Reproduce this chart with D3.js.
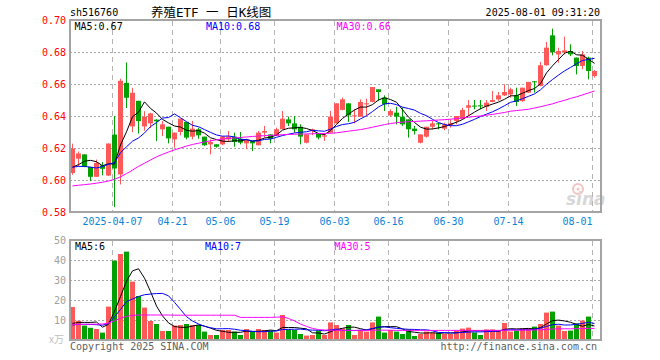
<!DOCTYPE html>
<html><head><meta charset="utf-8">
<script src="https://cdn.jsdelivr.net/npm/d3@7/dist/d3.min.js"></script>
<style>body{margin:0;background:#fff}svg{display:block}</style>
</head><body>
<svg id="chart" width="660" height="360"></svg>
<script>
// ---------- data ----------
const dates = ["2025-03-26","2025-03-27","2025-03-28","2025-03-31","2025-04-01","2025-04-02","2025-04-03","2025-04-07","2025-04-08","2025-04-09",
"2025-04-10","2025-04-11","2025-04-14","2025-04-15","2025-04-16","2025-04-17","2025-04-18","2025-04-21","2025-04-22","2025-04-23",
"2025-04-24","2025-04-25","2025-04-28","2025-04-29","2025-04-30","2025-05-06","2025-05-07","2025-05-08","2025-05-09","2025-05-12",
"2025-05-13","2025-05-14","2025-05-15","2025-05-16","2025-05-19","2025-05-20","2025-05-21","2025-05-22","2025-05-23","2025-05-26",
"2025-05-27","2025-05-28","2025-05-29","2025-05-30","2025-06-03","2025-06-04","2025-06-05","2025-06-06","2025-06-09","2025-06-10",
"2025-06-11","2025-06-12","2025-06-13","2025-06-16","2025-06-17","2025-06-18","2025-06-19","2025-06-20","2025-06-23","2025-06-24",
"2025-06-25","2025-06-26","2025-06-27","2025-06-30","2025-07-01","2025-07-02","2025-07-03","2025-07-04","2025-07-07","2025-07-08",
"2025-07-09","2025-07-10","2025-07-11","2025-07-14","2025-07-15","2025-07-16","2025-07-17","2025-07-18","2025-07-21","2025-07-22",
"2025-07-23","2025-07-24","2025-07-25","2025-07-28","2025-07-29","2025-07-30","2025-07-31","2025-08-01"];

const open  = [.6044,.6133,.6160,.6082,.6020,.6091,.6028,.6284,.6035,.6607,
.6335,.6495,.6335,.6354,.6377,.6317,.6333,.6254,.6300,.6363,
.6271,.6317,.6271,.6223,.6223,.6223,.6254,.6271,.6258,.6229,
.6244,.6217,.6296,.6285,.6275,.6317,.6379,.6354,.6333,.6233,
.6306,.6292,.6271,.6296,.6354,.6438,.6479,.6400,.6396,.6475,
.6488,.6567,.6515,.6404,.6421,.6396,.6379,.6321,.6233,.6271,
.6333,.6354,.6321,.6342,.6369,.6383,.6452,.6465,.6467,.6458,
.6488,.6504,.6529,.6535,.6529,.6494,.6546,.6617,.6588,.6717,
.6904,.6785,.6800,.6806,.6765,.6713,.6765,.6650];
const high  = [.6227,.6178,.6160,.6082,.6128,.6112,.6228,.6400,.6633,.6734,
.6576,.6495,.6430,.6420,.6380,.6369,.6333,.6296,.6383,.6363,
.6369,.6327,.6271,.6254,.6223,.6275,.6306,.6296,.6300,.6258,
.6244,.6306,.6338,.6285,.6327,.6431,.6396,.6400,.6348,.6285,
.6321,.6292,.6292,.6431,.6479,.6515,.6479,.6442,.6504,.6508,
.6581,.6567,.6529,.6442,.6458,.6452,.6379,.6338,.6285,.6333,
.6369,.6358,.6358,.6379,.6400,.6452,.6500,.6500,.6500,.6500,
.6556,.6550,.6598,.6577,.6577,.6577,.6613,.6619,.6738,.6863,
.6946,.6827,.6896,.6848,.6765,.6806,.6771,.6688];
const low   = [.6033,.6085,.6080,.5993,.6020,.6029,.6025,.5831,.5972,.6450,
.6300,.6290,.6308,.6325,.6243,.6275,.6229,.6202,.6279,.6254,
.6254,.6258,.6213,.6160,.6202,.6217,.6238,.6208,.6223,.6192,
.6181,.6217,.6265,.6229,.6275,.6317,.6338,.6296,.6223,.6229,
.6280,.6254,.6244,.6296,.6354,.6435,.6363,.6354,.6396,.6400,
.6485,.6494,.6431,.6396,.6348,.6338,.6265,.6285,.6229,.6265,
.6317,.6317,.6312,.6327,.6348,.6381,.6400,.6442,.6442,.6431,
.6486,.6494,.6525,.6515,.6463,.6488,.6544,.6546,.6586,.6715,
.6779,.6733,.6785,.6775,.6660,.6692,.6629,.6640];
const close = [.6196,.6166,.6082,.6020,.6107,.6070,.6228,.6072,.6620,.6514,
.6545,.6368,.6395,.6416,.6367,.6348,.6260,.6296,.6383,.6265,
.6321,.6279,.6217,.6238,.6208,.6271,.6271,.6238,.6233,.6248,
.6229,.6296,.6306,.6258,.6317,.6383,.6354,.6317,.6271,.6285,
.6317,.6265,.6279,.6396,.6479,.6504,.6404,.6404,.6488,.6479,
.6581,.6550,.6473,.6431,.6396,.6348,.6317,.6306,.6285,.6333,
.6354,.6350,.6348,.6354,.6400,.6438,.6467,.6462,.6460,.6483,
.6500,.6529,.6550,.6567,.6488,.6577,.6613,.6613,.6717,.6827,
.6800,.6806,.6810,.6785,.6713,.6785,.6681,.6681];
// volume in 万
const volume = [16.5,9.6,7.2,6.1,5.5,3.7,16.7,39.7,43.0,44.2,
29.2,22.0,16.2,9.5,8.0,4.5,4.5,7.2,7.5,8.0,
7.5,7.5,4.2,2.5,2.5,5.0,5.0,4.2,2.5,5.5,
4.2,5.5,5.0,4.7,3.7,12.5,5.3,5.0,3.0,2.2,
2.5,4.7,2.5,8.8,7.5,5.8,7.5,2.5,5.0,4.2,
8.8,11.7,3.7,5.0,4.2,3.0,5.3,2.0,3.0,4.2,
3.7,3.7,3.0,3.0,4.7,5.7,6.2,3.8,2.5,5.3,
5.3,5.0,8.5,4.2,4.7,5.8,5.8,6.7,8.0,13.7,
14.2,7.2,4.5,4.7,8.3,9.7,11.7,0.5];
// sessions just before the visible window (implied by the MA lines at the left edge)
const priorCloses  = [.6116,.6082,.6070,.6157,.5975,.6086,.5977,.5990,.6151];
const priorVolumes = [6.5,6.8,6.9,6.6,6.7,7.1,7.2,6.1,4.6];
// 30-day averages
const ma30Price = [.5963,.5967,.5971,.5975,.5980,.5986,.5994,.6004,.6020,.6040,
.6062,.6085,.6105,.6125,.6145,.6160,.6175,.6188,.6200,.6212,
.6222,.6230,.6238,.6245,.6251,.6256,.6260,.6263,.6266,.6269,
.6272,.6275,.6277,.6279,.6281,.6283,.6285,.6286,.6287,.6288,
.6289,.6290,.6291,.6292,.6295,.6300,.6305,.6310,.6315,.6322,
.6330,.6338,.6346,.6353,.6358,.6362,.6364,.6366,.6368,.6370,
.6372,.6375,.6377,.6380,.6384,.6388,.6392,.6397,.6400,.6405,
.6410,.6416,.6422,.6430,.6434,.6438,.6442,.6450,.6458,.6467,
.6476,.6488,.6498,.6510,.6520,.6532,.6544,.6556];
const ma30Vol = [7.8,7.8,7.8,7.9,7.9,8.0,8.4,9.6,10.9,11.8,
12.3,12.5,12.5,12.5,12.5,12.5,12.5,12.4,12.4,12.4,
12.4,12.4,12.4,12.4,12.4,12.4,12.4,12.4,11.3,11.3,
11.3,11.3,11.3,11.3,11.4,11.6,10.8,9.5,8.0,6.8,
5.8,5.2,5.0,4.9,4.9,4.8,4.8,4.8,4.8,4.8,
4.9,4.9,4.9,4.9,4.8,4.8,4.8,4.8,4.8,4.8,
4.8,4.8,4.8,4.8,4.8,4.8,4.8,4.8,4.8,4.8,
4.8,4.8,4.9,4.9,4.9,4.9,5.0,5.0,5.1,5.3,
5.5,5.6,5.6,5.6,5.7,5.7,5.8,5.8];

const priceTicks = [0.58,0.60,0.62,0.64,0.66,0.68,0.70];
const volTicks = [10,20,30,40,50];
const dateTicks = ["2025-04-07","2025-04-21","2025-05-06","2025-05-19","2025-06-03","2025-06-16","2025-06-30","2025-07-14","2025-08-01"];
const dateTickLabels = ["2025-04-07","04-21","05-06","05-19","06-03","06-16","06-30","07-14","08-01"];
const priceLegend = ["MA5:0.67","MA10:0.68","MA30:0.66"];
const volLegend = ["MA5:6","MA10:7","MA30:5"];
const titleCode = "sh516760";
const titleText = "养殖ETF 一 日K线图";
const titleTime = "2025-08-01 09:31:20";

// ---------- setup ----------
const UP = "#ff5858", DOWN = "#00a000";
const MA_COLORS = ["#000000", "#0000ff", "#ff00ff"];
const MONO = "'DejaVu Sans Mono', 'Liberation Mono', monospace";
const svg = d3.select("#chart");

const L = 70, R = 601;
const x = d3.scaleLinear().domain([0, dates.length - 1]).range([72.5, 72.5 + 6 * (dates.length - 1)]);
const y = d3.scaleLinear().domain([0.58, 0.70]).range([212, 20]);
const yv = d3.scaleLinear().domain([0, 50]).range([340, 240]);

function movingAvg(prior, vals, n) {
  const all = prior.concat(vals), off = prior.length;
  return vals.map((_, i) => d3.mean(all.slice(i + off - n + 1, i + off + 1)));
}
const ma5 = movingAvg(priorCloses, close, 5), ma10 = movingAvg(priorCloses, close, 10);
const vma5 = movingAvg(priorVolumes, volume, 5), vma10 = movingAvg(priorVolumes, volume, 10);

const idx = d3.range(dates.length);
const isUp = i => close[i] >= open[i];

// clip paths
const defs = svg.append("defs");
defs.append("clipPath").attr("id", "cp").append("rect").attr("x", L).attr("y", 20).attr("width", R - L).attr("height", 192);
defs.append("clipPath").attr("id", "cv").append("rect").attr("x", L).attr("y", 240).attr("width", R - L).attr("height", 100);

// ---------- titles ----------
svg.append("text").attr("x", 70).attr("y", 16).attr("font-family", MONO).attr("font-size", 10).attr("fill", "#000").text(titleCode);
svg.append("text").attr("x", 151).attr("y", 17).attr("style", "white-space:pre")
  .attr("font-family", "'DejaVu Sans Mono', 'Noto Sans CJK SC', sans-serif").attr("font-size", 12.5).attr("fill", "#000").text(titleText);
svg.append("text").attr("x", 600).attr("y", 16).attr("text-anchor", "end").attr("font-family", MONO).attr("font-size", 10).attr("fill", "#000").text(titleTime);

// ---------- grids ----------
function vgrid(top, bottom) {
  svg.append("g").selectAll("line").data(dateTicks).join("line")
    .attr("x1", d => x(dates.indexOf(d)) - 2).attr("x2", d => x(dates.indexOf(d)) - 2)
    .attr("y1", top).attr("y2", bottom)
    .attr("stroke", "#b4b4b4").attr("stroke-width", 1).attr("stroke-dasharray", "5,4");
}
vgrid(21, 211);
vgrid(241, 339);
svg.append("g").selectAll("line").data(priceTicks.filter(v => v > 0.585 && v < 0.695)).join("line")
  .attr("x1", L).attr("x2", R).attr("y1", d => Math.round(y(d)) + 0.5).attr("y2", d => Math.round(y(d)) + 0.5)
  .attr("stroke", "#a8a8a8").attr("stroke-dasharray", "2,2");
svg.append("g").selectAll("line").data(volTicks.filter(v => v < 50)).join("line")
  .attr("x1", L).attr("x2", R).attr("y1", d => Math.round(yv(d)) + 0.5).attr("y2", d => Math.round(yv(d)) + 0.5)
  .attr("stroke", "#a8a8a8").attr("stroke-dasharray", "2,2");

// ---------- watermark ----------
const wm = svg.append("g").attr("opacity", 0.55);
wm.append("circle").attr("cx", 578).attr("cy", 189).attr("r", 5).attr("fill", "none").attr("stroke", "#f09090").attr("stroke-width", 2);
wm.append("circle").attr("cx", 578).attr("cy", 189).attr("r", 1.5).attr("fill", "#f09090");
wm.append("text").attr("x", 566).attr("y", 205).attr("font-family", "'DejaVu Sans', sans-serif").attr("font-size", 17)
  .attr("font-style", "italic").attr("font-weight", "bold").attr("fill", "#b8b8b8").text("sina");

// ---------- candles ----------
const cg = svg.append("g").attr("clip-path", "url(#cp)");
cg.selectAll("line.w").data(idx).join("line").attr("class", "w")
  .attr("x1", i => x(i)).attr("x2", i => x(i))
  .attr("y1", i => y(high[i])).attr("y2", i => y(low[i]))
  .attr("stroke", i => isUp(i) ? UP : DOWN).attr("stroke-width", 1);
cg.selectAll("rect").data(idx).join("rect")
  .attr("x", i => x(i) - 2.5).attr("width", 5)
  .attr("y", i => Math.min(y(open[i]), y(close[i])))
  .attr("height", i => Math.max(1, Math.abs(y(open[i]) - y(close[i]))))
  .attr("fill", i => isUp(i) ? UP : DOWN);

const line = (sc) => d3.line().x((d, i) => x(i)).y(d => sc(d));
[ma5, ma10, ma30Price].forEach((arr, k) => {
  cg.append("path").datum(arr).attr("d", line(y)).attr("fill", "none").attr("stroke", MA_COLORS[k]).attr("stroke-width", 1);
});

// ---------- volume ----------
const vg = svg.append("g").attr("clip-path", "url(#cv)");
vg.selectAll("rect").data(idx).join("rect")
  .attr("x", i => x(i) - 2.5).attr("width", 5)
  .attr("y", i => yv(volume[i])).attr("height", i => yv(0) - yv(volume[i]))
  .attr("fill", i => isUp(i) ? UP : DOWN);
[vma5, vma10, ma30Vol].forEach((arr, k) => {
  vg.append("path").datum(arr).attr("d", line(yv)).attr("fill", "none").attr("stroke", MA_COLORS[k]).attr("stroke-width", 1);
});

// ---------- frames ----------
svg.append("rect").attr("x", L).attr("y", 20).attr("width", R - L).attr("height", 192).attr("fill", "none").attr("stroke", "#a4a4a4").attr("stroke-width", 2);
svg.append("rect").attr("x", L).attr("y", 240).attr("width", R - L).attr("height", 100).attr("fill", "none").attr("stroke", "#a4a4a4").attr("stroke-width", 2);

// ---------- axes labels ----------
svg.append("g").selectAll("text").data(priceTicks).join("text")
  .attr("x", 66).attr("y", d => y(d)).attr("dy", "0.36em").attr("text-anchor", "end")
  .attr("font-family", MONO).attr("font-size", 10).attr("fill", "#ff0000").text(d => d.toFixed(2));
svg.append("g").selectAll("text").data(volTicks).join("text")
  .attr("x", 66).attr("y", d => yv(d)).attr("dy", "0.36em").attr("text-anchor", "end")
  .attr("font-family", MONO).attr("font-size", 10).attr("fill", "#a0a0a0").text(d => d);
svg.append("text").attr("x", 64).attr("y", 343).attr("text-anchor", "end").attr("font-family", "'Noto Sans CJK SC', sans-serif")
  .attr("font-size", 10).attr("fill", "#c0c0c0").text("x万");

svg.append("g").selectAll("text").data(dateTicks).join("text")
  .attr("x", (d, k) => x(dates.indexOf(d)) - 2)
  .attr("y", 225)
  .attr("text-anchor", (d, k) => (x(dates.indexOf(d)) - 2 + dateTickLabels[k].length * 3 > R - 3) ? "end" : "middle")
  .attr("font-family", MONO).attr("font-size", 10).attr("fill", "#0a84d6").text((d, k) => dateTickLabels[k]);

// ---------- legends ----------
const legX = [74.5, 206, 336.5];
svg.append("g").selectAll("text").data(priceLegend).join("text")
  .attr("x", (d, k) => legX[k]).attr("y", 30).attr("font-family", MONO).attr("font-size", 10)
  .attr("fill", (d, k) => MA_COLORS[k]).text(d => d);
const vlegX = [75, 205, 334.5];
svg.append("g").selectAll("text").data(volLegend).join("text")
  .attr("x", (d, k) => vlegX[k]).attr("y", 250).attr("font-family", MONO).attr("font-size", 10)
  .attr("fill", (d, k) => MA_COLORS[k]).text(d => d);

// ---------- footer ----------
svg.append("text").attr("x", 70).attr("y", 350).attr("font-family", MONO).attr("font-size", 10).attr("fill", "#606060").text("Copyright 2025 SINA.COM");
svg.append("text").attr("x", 597).attr("y", 350).attr("text-anchor", "end").attr("font-family", MONO).attr("font-size", 10).attr("fill", "#606060").text("http://finance.sina.com.cn");
</script>
</body></html>
